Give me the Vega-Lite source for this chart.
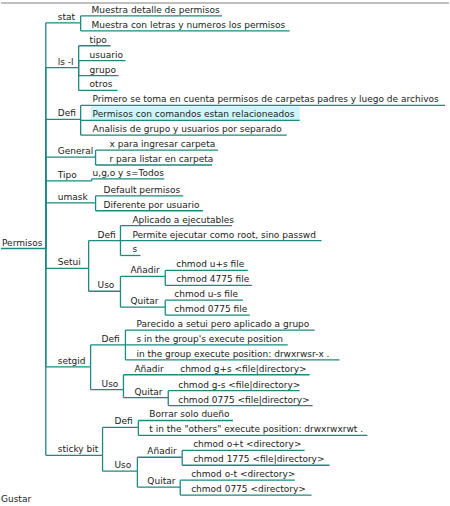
{
  "$schema": "https://vega.github.io/schema/vega-lite/v6.json",
  "autosize": {"type": "fit", "contains": "padding"},
  "width": 450,
  "height": 506,
  "padding": 0,
  "background": "white",
  "view": {"stroke": null},
  "data": {
    "values": [
      {"t": "Permisos", "x": 1, "ly": 250, "ex": 45, "px": 0, "py": 250},
      {"t": "stat", "x": 57, "ly": 23, "ex": 80, "px": 45, "py": 250},
      {"t": "Muestra detalle de permisos", "x": 91, "ly": 16, "ex": 222, "px": 80, "py": 23},
      {"t": "Muestra con letras y numeros los permisos", "x": 91, "ly": 31, "ex": 290, "px": 80, "py": 23},
      {"t": "ls -l", "x": 57, "ly": 68, "ex": 78, "px": 45, "py": 250},
      {"t": "tipo", "x": 89, "ly": 46, "ex": 110, "px": 78, "py": 68},
      {"t": "usuario", "x": 89, "ly": 61, "ex": 125, "px": 78, "py": 68},
      {"t": "grupo", "x": 89, "ly": 76, "ex": 118, "px": 78, "py": 68},
      {"t": "otros", "x": 89, "ly": 91, "ex": 117, "px": 78, "py": 68},
      {"t": "Defi", "x": 57, "ly": 120, "ex": 80, "px": 45, "py": 250},
      {"t": "Primero se toma en cuenta permisos de carpetas padres y luego de archivos", "x": 92, "ly": 106, "ex": 446, "px": 80, "py": 120},
      {"t": "Permisos con comandos estan relacioneados", "x": 92, "ly": 121, "ex": 300, "px": 80, "py": 120, "hl": true, "hx": 90, "hy": 107},
      {"t": "Analisis de grupo y usuarios por separado", "x": 92, "ly": 136, "ex": 287, "px": 80, "py": 120},
      {"t": "General", "x": 57, "ly": 158, "ex": 95, "px": 45, "py": 250},
      {"t": "x para ingresar carpeta", "x": 109, "ly": 151, "ex": 218, "px": 95, "py": 158},
      {"t": "r para listar en carpeta", "x": 109, "ly": 166, "ex": 212, "px": 95, "py": 158},
      {"t": "Tipo", "x": 57, "ly": 182, "ex": 91, "px": 45, "py": 250},
      {"t": "u,g,o y s=Todos", "x": 92, "ly": 180, "ex": 164, "px": 91, "py": 182},
      {"t": "umask", "x": 57, "ly": 204, "ex": 95, "px": 45, "py": 250},
      {"t": "Default permisos", "x": 103, "ly": 197, "ex": 183, "px": 95, "py": 204},
      {"t": "Diferente por usuario", "x": 103, "ly": 212, "ex": 203, "px": 95, "py": 204},
      {"t": "Setui", "x": 57, "ly": 270, "ex": 88, "px": 45, "py": 250},
      {"t": "Defi", "x": 97, "ly": 242, "ex": 120, "px": 88, "py": 270},
      {"t": "Aplicado a ejecutables", "x": 132, "ly": 227, "ex": 232, "px": 120, "py": 242},
      {"t": "Permite ejecutar como root, sino passwd", "x": 132, "ly": 242, "ex": 322, "px": 120, "py": 242},
      {"t": "s", "x": 132, "ly": 257, "ex": 140, "px": 120, "py": 242},
      {"t": "Uso", "x": 97, "ly": 293, "ex": 120, "px": 88, "py": 270},
      {"t": "Añadir", "x": 130, "ly": 278, "ex": 165, "px": 120, "py": 293},
      {"t": "chmod u+s file", "x": 176, "ly": 272, "ex": 248, "px": 165, "py": 278},
      {"t": "chmod 4775 file", "x": 176, "ly": 287, "ex": 252, "px": 165, "py": 278},
      {"t": "Quitar", "x": 130, "ly": 309, "ex": 165, "px": 120, "py": 293},
      {"t": "chmod u-s file", "x": 174, "ly": 302, "ex": 243, "px": 165, "py": 309},
      {"t": "chmod 0775 file", "x": 174, "ly": 317, "ex": 250, "px": 165, "py": 309},
      {"t": "setgid", "x": 57, "ly": 369, "ex": 90, "px": 45, "py": 250},
      {"t": "Defi", "x": 101, "ly": 347, "ex": 125, "px": 90, "py": 369},
      {"t": "Parecido a setui pero aplicado a grupo", "x": 136, "ly": 332, "ex": 315, "px": 125, "py": 347},
      {"t": "s in the group's execute position", "x": 136, "ly": 347, "ex": 288, "px": 125, "py": 347},
      {"t": " in the group execute position: drwxrwsr-x .", "x": 136, "ly": 362, "ex": 340, "px": 125, "py": 347},
      {"t": "Uso", "x": 101, "ly": 392, "ex": 123, "px": 90, "py": 369},
      {"t": "Añadir", "x": 134, "ly": 377, "ex": 178, "px": 123, "py": 392},
      {"t": "chmod g+s <file|directory>", "x": 180, "ly": 377, "ex": 310, "px": 178, "py": 377},
      {"t": "Quitar", "x": 134, "ly": 400, "ex": 168, "px": 123, "py": 392},
      {"t": "chmod g-s <file|directory>", "x": 178, "ly": 393, "ex": 300, "px": 168, "py": 400},
      {"t": "chmod 0775  <file|directory>", "x": 178, "ly": 408, "ex": 313, "px": 168, "py": 400},
      {"t": "sticky bit", "x": 57, "ly": 458, "ex": 102, "px": 45, "py": 250},
      {"t": "Defi", "x": 114, "ly": 430, "ex": 138, "px": 102, "py": 458},
      {"t": "Borrar solo dueño", "x": 149, "ly": 423, "ex": 233, "px": 138, "py": 430},
      {"t": "t in the \"others\" execute position: drwxrwxrwt .", "x": 149, "ly": 438, "ex": 368, "px": 138, "py": 430},
      {"t": "Uso", "x": 114, "ly": 474, "ex": 137, "px": 102, "py": 458},
      {"t": "Añadir", "x": 147, "ly": 460, "ex": 182, "px": 137, "py": 474},
      {"t": "chmod o+t <directory>", "x": 193, "ly": 453, "ex": 305, "px": 182, "py": 460},
      {"t": "chmod 1775  <file|directory>", "x": 193, "ly": 468, "ex": 330, "px": 182, "py": 460},
      {"t": "Quitar", "x": 147, "ly": 490, "ex": 180, "px": 137, "py": 474},
      {"t": "chmod o-t <directory>", "x": 191, "ly": 483, "ex": 295, "px": 180, "py": 490},
      {"t": "chmod 0775  <directory>", "x": 191, "ly": 498, "ex": 312, "px": 180, "py": 490},
      {"t": "Gustar", "x": 0, "ly": 508, "ex": 0, "px": 0, "py": 508}
    ]
  },
  "encoding": {
    "x": {"field": "x", "type": "quantitative", "scale": {"domain": [0, 450], "nice": false, "zero": false}, "axis": null},
    "y": {"field": "ly", "type": "quantitative", "scale": {"domain": [0, 506], "nice": false, "zero": false, "reverse": true}, "axis": null}
  },
  "layer": [
    {
      "data": {"values": [{"a": 0, "b": 450, "c": 3}]},
      "mark": {"type": "rule", "color": "#aaaaaa", "strokeWidth": 1.5},
      "encoding": {
        "x": {"field": "a", "type": "quantitative"},
        "x2": {"field": "b"},
        "y": {"field": "c", "type": "quantitative"}
      }
    },
    {
      "transform": [{"filter": "datum.hl"}],
      "mark": {"type": "rect", "color": "#ccf6fb"},
      "encoding": {
        "x": {"field": "hx", "type": "quantitative"},
        "x2": {"field": "ex"},
        "y": {"field": "ly", "type": "quantitative"},
        "y2": {"field": "hy"}
      }
    },
    {
      "mark": {"type": "rule", "color": "#1b8a80", "strokeWidth": 1.3},
      "encoding": {
        "x": {"field": "px", "type": "quantitative"},
        "y": {"field": "py", "type": "quantitative"},
        "y2": {"field": "ly"}
      }
    },
    {
      "mark": {"type": "rule", "color": "#1b8a80", "strokeWidth": 1.3},
      "encoding": {
        "x": {"field": "px", "type": "quantitative"},
        "x2": {"field": "ex"}
      }
    },
    {
      "mark": {"type": "text", "align": "left", "baseline": "alphabetic", "dy": -3, "font": "DejaVu Sans", "fontSize": 9, "color": "#222", "clip": true},
      "encoding": {"text": {"field": "t"}}
    }
  ]
}
